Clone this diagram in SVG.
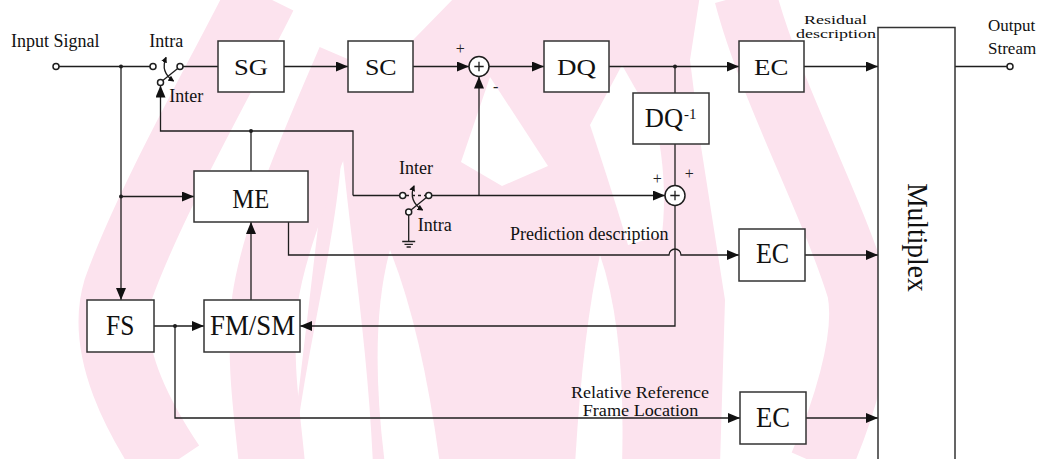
<svg xmlns="http://www.w3.org/2000/svg" width="1045" height="459" viewBox="0 0 1045 459">
  <defs>
    <style>
      .wm { fill: none; stroke: #fce3ee; stroke-linecap: butt; }
      .wf { fill: #fce3ee; stroke: none; }
      .wg { fill: #ffffff; stroke: none; }
      .ln { fill: none; stroke: #1e1e1e; stroke-width: 1.3; }
      .box { fill: #ffffff; stroke: #333333; stroke-width: 1.5; }
      .term { fill: #ffffff; stroke: #1e1e1e; stroke-width: 1.5; }
      .dot { fill: #1e1e1e; }
      .bt { font-family: "Liberation Serif", "Times New Roman", serif; fill: #111; text-anchor: middle; }
      .lb { font-family: "Liberation Serif", "Times New Roman", serif; font-size: 18px; fill: #111; }
      .sg { font-family: "Liberation Serif", "Times New Roman", serif; font-size: 16px; fill: #222; text-anchor: middle; }
    </style>
    <marker id="ah" viewBox="0 0 12 10" refX="12" refY="5" markerWidth="12" markerHeight="10" markerUnits="userSpaceOnUse" orient="auto">
      <path d="M0,0 L12,5 L0,10 z" fill="#111"/>
    </marker>
    <marker id="sa" viewBox="0 0 6 6" refX="5" refY="3" markerWidth="6" markerHeight="6" markerUnits="userSpaceOnUse" orient="auto-start-reverse">
      <path d="M0,0 L6,3 L0,6 z" fill="#111"/>
    </marker>
  </defs>

  <rect width="1045" height="459" fill="#ffffff"/>

  <!-- background emblem: nested pointed arches -->
  <g id="emblem">
    <!-- central body -->
    <path class="wf" d="M330,125 L457,-5 L700,-5 L690,60 L700,140 L725,300 L720,465 L290,465 Z"/>
    <!-- gaps between the arches -->
    <path class="wg" d="M342,150 C335,250 305,350 293,465 L373,465 C368,350 352,250 342,150 Z"/>
    <path class="wg" d="M490,77 L461,162 L502,186 L548,166 Z"/>
    <path class="wg" d="M390,250 Q368,330 385,465 L440,465 Q422,330 390,250 Z"/>
    <path class="wg" d="M600,255 Q583,330 575,465 L622,465 Q626,330 600,255 Z"/>
    <path class="wg" d="M622,65 L590,125 Q615,200 628,245 L662,235 Q668,180 656,125 Z"/>
    <path class="wg" d="M720,140 Q745,220 752,300 Q760,380 745,465 L790,465 Q810,380 800,300 Q780,220 745,140 Z"/>
    <!-- side bands -->
    <path class="wm" stroke-width="70" d="M262,-5 C225,70 150,200 118,290 C100,350 140,420 170,465"/>
    <path class="wm" stroke-width="66" d="M350,60 C320,130 275,230 265,300 C258,360 268,420 272,465"/>
    <path class="wm" stroke-width="62" d="M745,-5 C770,90 830,200 858,290 C868,340 840,420 820,465"/>
  </g>

  <!-- connectors -->
  <g id="connectors">
    <!-- input line and branch -->
    <path class="ln" d="M59,66.5 H150"/>
    <path class="ln" d="M183,66.5 H218"/>
    <path class="ln" d="M121,66.5 V300" marker-end="url(#ah)"/>
    <path class="ln" d="M121,196.5 H194" marker-end="url(#ah)"/>
    <!-- upper chain -->
    <path class="ln" d="M284,66.5 H348" marker-end="url(#ah)"/>
    <path class="ln" d="M413,66.5 H469" marker-end="url(#ah)"/>
    <path class="ln" d="M489,66.5 H544" marker-end="url(#ah)"/>
    <path class="ln" d="M609,66.5 H739" marker-end="url(#ah)"/>
    <path class="ln" d="M675,66.5 V93"/>
    <path class="ln" d="M804,66.5 H878" marker-end="url(#ah)"/>
    <path class="ln" d="M955,66.5 H1007"/>
    <!-- feedback to the upper switch -->
    <path class="ln" d="M353,195.5 V131 H160.5 V85.5" marker-end="url(#ah)"/>
    <path class="ln" d="M251,131 V171"/>
    <!-- lower switch to adders -->
    <path class="ln" d="M353,195.5 H399.7"/>
    <path class="ln" d="M431.7,195.5 H665" marker-end="url(#ah)"/>
    <path class="ln" d="M479,195.5 V76.5" marker-end="url(#ah)"/>
    <path class="ln" d="M675,144 V185"/>
    <path class="ln" d="M675,205.5 V326 H300" marker-end="url(#ah)"/>
    <!-- prediction description -->
    <path class="ln" d="M288.5,222 V255 H669 A6,6 0 0 1 681,255 H739" marker-end="url(#ah)"/>
    <path class="ln" d="M805,255 H878" marker-end="url(#ah)"/>
    <!-- frame selection -->
    <path class="ln" d="M154,326 H204" marker-end="url(#ah)"/>
    <path class="ln" d="M175,326 V418 H740" marker-end="url(#ah)"/>
    <path class="ln" d="M806,418 H878" marker-end="url(#ah)"/>
    <path class="ln" d="M251,300 V222" marker-end="url(#ah)"/>
    <!-- junction dots -->
    <circle class="dot" cx="121" cy="66.5" r="2"/>
    <circle class="dot" cx="121" cy="196.5" r="2"/>
    <circle class="dot" cx="251" cy="131" r="2"/>
    <circle class="dot" cx="675" cy="66.5" r="2"/>
    <circle class="dot" cx="175" cy="326" r="2"/>
  </g>

  <!-- terminals -->
  <g id="input-terminal">
    <circle class="term" cx="56" cy="66.5" r="3"/>
    <text class="lb" x="11" y="46.5">Input Signal</text>
  </g>
  <g id="output-terminal">
    <circle class="term" cx="1010" cy="66.5" r="3"/>
    <text class="lb" x="988" y="31" style="font-size:17px">Output</text>
    <text class="lb" x="988" y="54" style="font-size:17px">Stream</text>
  </g>

  <!-- intra/inter switch on the input path -->
  <g id="switch-upper">
    <circle class="term" cx="153" cy="66.5" r="3"/>
    <circle class="term" cx="180" cy="66.5" r="3"/>
    <circle class="term" cx="160.5" cy="82.5" r="3"/>
    <path class="ln" d="M162.8,80.6 L177.7,68.4"/>
    <path class="ln" stroke-width="1" d="M166,57.5 Q160,72 173.5,81" marker-start="url(#sa)" marker-end="url(#sa)"/>
    <text class="lb" x="149.3" y="46.5">Intra</text>
    <text class="lb" x="169.3" y="101.5">Inter</text>
  </g>

  <!-- inter/intra switch on the prediction path -->
  <g id="switch-lower">
    <circle class="term" cx="402.7" cy="195.5" r="3"/>
    <circle class="term" cx="428.7" cy="195.5" r="3"/>
    <circle class="term" cx="408.7" cy="212" r="3"/>
    <path class="ln" stroke-dasharray="3,3" d="M406,195.5 H425.5"/>
    <path class="ln" d="M411,210 L426.4,197.5"/>
    <path class="ln" stroke-width="1" d="M414,186 Q408,201 422.5,210" marker-start="url(#sa)" marker-end="url(#sa)"/>
    <path class="ln" d="M408.7,215 V241.5 M402.2,241.5 H415.2 M404.5,244.3 H412.9 M406.6,247 H410.8"/>
    <text class="lb" x="399" y="174.3">Inter</text>
    <text class="lb" x="417.7" y="230.7">Intra</text>
  </g>

  <!-- processing blocks -->
  <g id="SG">
    <rect class="box" x="218" y="41" width="66" height="51"/>
    <text class="bt" x="251" y="75" font-size="24" textLength="34" lengthAdjust="spacingAndGlyphs">SG</text>
  </g>
  <g id="SC">
    <rect class="box" x="348" y="41" width="65" height="51"/>
    <text class="bt" x="380.8" y="75" font-size="24" textLength="31.7" lengthAdjust="spacingAndGlyphs">SC</text>
  </g>
  <g id="sum-residual">
    <circle class="term" cx="479" cy="66.5" r="10"/>
    <path class="ln" stroke-width="0.9" d="M474.3,66.5 H483.7 M479,61.8 V71.2"/>
    <text class="sg" x="460.3" y="54">+</text>
    <text class="sg" x="495.7" y="91.5">-</text>
  </g>
  <g id="DQ">
    <rect class="box" x="544" y="41" width="65" height="51"/>
    <text class="bt" x="576.4" y="75" font-size="24" textLength="39" lengthAdjust="spacingAndGlyphs">DQ</text>
  </g>
  <g id="DQ-inverse">
    <rect class="box" x="633" y="93" width="76" height="51"/>
    <text class="bt" x="664" y="127" font-size="28" textLength="38.3" lengthAdjust="spacingAndGlyphs">DQ</text>
    <text class="bt" x="690.3" y="118.5" font-size="15" textLength="12.5" lengthAdjust="spacingAndGlyphs">-1</text>
  </g>
  <g id="sum-reconstruction">
    <circle class="term" cx="675" cy="195.5" r="10"/>
    <path class="ln" stroke-width="0.9" d="M670.3,195.5 H679.7 M675,190.8 V200.2"/>
    <text class="sg" x="657.3" y="184">+</text>
    <text class="sg" x="689.3" y="179">+</text>
  </g>
  <g id="EC-residual">
    <rect class="box" x="739" y="41" width="65" height="51"/>
    <text class="bt" x="771.2" y="75" font-size="24" textLength="34.3" lengthAdjust="spacingAndGlyphs">EC</text>
  </g>
  <g id="residual-label">
    <text class="lb" x="804" y="23.5" style="font-size:13.5px" textLength="63" lengthAdjust="spacingAndGlyphs">Residual</text>
    <text class="lb" x="796" y="37.5" style="font-size:13.5px" textLength="80" lengthAdjust="spacingAndGlyphs">description</text>
  </g>
  <g id="ME">
    <rect class="box" x="194" y="171" width="114" height="51"/>
    <text class="bt" x="250.8" y="207.7" font-size="27.5" textLength="37" lengthAdjust="spacingAndGlyphs">ME</text>
  </g>
  <g id="prediction-label">
    <text class="lb" x="510" y="240">Prediction description</text>
  </g>
  <g id="EC-prediction">
    <rect class="box" x="739" y="229" width="66" height="52"/>
    <text class="bt" x="772.6" y="263.3" font-size="28.5" textLength="33.3" lengthAdjust="spacingAndGlyphs">EC</text>
  </g>
  <g id="FS">
    <rect class="box" x="87" y="300" width="67" height="52"/>
    <text class="bt" x="120.2" y="335" font-size="28.5" textLength="28.3" lengthAdjust="spacingAndGlyphs">FS</text>
  </g>
  <g id="FM-SM">
    <rect class="box" x="204" y="300" width="96" height="52"/>
    <text class="bt" x="252.5" y="335" font-size="28.5" textLength="85" lengthAdjust="spacingAndGlyphs">FM/SM</text>
  </g>
  <g id="reference-label">
    <text class="lb" x="640" y="398" style="font-size:16px;text-anchor:middle" textLength="138" lengthAdjust="spacingAndGlyphs">Relative Reference</text>
    <text class="lb" x="640.5" y="415.5" style="font-size:16px;text-anchor:middle" textLength="115.6" lengthAdjust="spacingAndGlyphs">Frame Location</text>
  </g>
  <g id="EC-reference">
    <rect class="box" x="740" y="392" width="66" height="52"/>
    <text class="bt" x="773" y="426.7" font-size="28.5" textLength="34" lengthAdjust="spacingAndGlyphs">EC</text>
  </g>
  <g id="Multiplex">
    <rect class="box" x="878" y="27.5" width="77" height="445"/>
    <text class="bt" transform="translate(908,237.4) rotate(90)" x="0" y="0" font-size="29" textLength="108.5" lengthAdjust="spacingAndGlyphs">Multiplex</text>
  </g>
</svg>
